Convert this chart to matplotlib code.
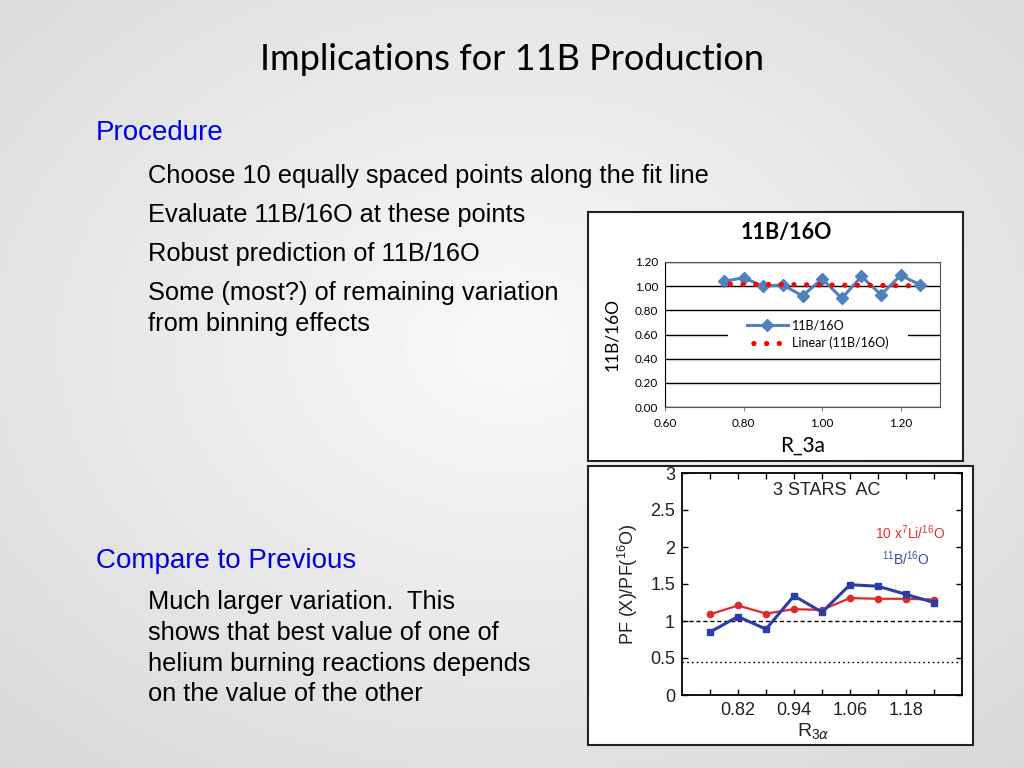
import matplotlib.pyplot as plt
import matplotlib as mpl
import numpy as np
from matplotlib.patches import Rectangle

mpl.use("Agg")
mpl.rcParams["mathtext.fontset"] = "custom"
mpl.rcParams["mathtext.rm"] = "Liberation Sans"

W, H = 1024, 768

# top chart (Excel): 11B/16O vs R_3a
r3a = [0.75, 0.80, 0.85, 0.90, 0.95, 1.00, 1.05, 1.10, 1.15, 1.20, 1.25]
b11_o16 = [1.04, 1.07, 1.00, 1.01, 0.92, 1.06, 0.90, 1.08, 0.93, 1.09, 1.01]
top_yticks = [0.00, 0.20, 0.40, 0.60, 0.80, 1.00, 1.20]
top_xticks = [0.60, 0.80, 1.00, 1.20]

# bottom chart (older paper figure)
r3alpha = [0.76, 0.82, 0.88, 0.94, 1.00, 1.06, 1.12, 1.18, 1.24]
boron_prev = [0.85, 1.06, 0.89, 1.34, 1.12, 1.49, 1.47, 1.36, 1.25]
lithium_prev = [1.09, 1.21, 1.10, 1.16, 1.15, 1.31, 1.30, 1.30, 1.29]
bot_xticks = [0.76, 0.82, 0.88, 0.94, 1.00, 1.06, 1.12, 1.18, 1.24]
bot_xlabels = ["", "0.82", "", "0.94", "", "1.06", "", "1.18", ""]
bot_yticks = [0, 0.5, 1, 1.5, 2, 2.5, 3]
bot_ylabels = ["0", "0.5", "1", "1.5", "2", "2.5", "3"]


def fx(px):
    return px / W


def fy(py):
    return 1 - py / H


def box(x0, y0, x1, y1):
    return [fx(x0), fy(y1), fx(x1) - fx(x0), fy(y0) - fy(y1)]


fig = plt.figure(figsize=(W / 100, H / 100), dpi=100)

# slide background, light radial gradient
bg = fig.add_axes([0, 0, 1, 1], zorder=-10)
yy, xx = np.mgrid[0:1:200j, 0:1:200j]
rr = np.sqrt(((xx - 0.5) / 0.75) ** 2 + ((yy - 0.55) / 0.75) ** 2)
shade = np.clip(0.975 - 0.13 * rr, 0, 1)
bg.imshow(shade, cmap="gray", vmin=0, vmax=1, extent=[0, 1, 0, 1],
          aspect="auto", origin="lower")
bg.axis("off")

sans = ["Liberation Sans", "DejaVu Sans"]
fig.text(0.5, fy(60), "Implications for 11B Production", fontsize=26,
         family=["Lato", "DejaVu Sans"], ha="center", va="center")

fig.text(fx(96), fy(133), "Procedure", fontsize=20, color="#0000e6",
         family=sans, va="center")
lines1 = [
    (176, "Choose 10 equally spaced points along the fit line"),
    (215, "Evaluate 11B/16O at these points"),
    (254, "Robust prediction of 11B/16O"),
    (293, "Some (most?) of remaining variation"),
    (324, "from binning effects"),
]
for y, s in lines1:
    fig.text(fx(148), fy(y), s, fontsize=18.3, family=sans, va="center")

fig.text(fx(96), fy(561), "Compare to Previous", fontsize=20, color="#0000e6",
         family=sans, va="center")
lines2 = [
    (602, "Much larger variation.  This"),
    (633, "shows that best value of one of"),
    (664, "helium burning reactions depends"),
    (694, "on the value of the other"),
]
for y, s in lines2:
    fig.text(fx(148), fy(y), s, fontsize=18.3, family=sans, va="center")

# ---- top chart ----
b = box(588, 212, 963, 461)
fig.patches.append(Rectangle((b[0], b[1]), b[2], b[3], transform=fig.transFigure,
                             facecolor="white", edgecolor="#222222", lw=1.5,
                             zorder=-5))
cal = ["Lato", "DejaVu Sans"]
fig.text(fx(786), fy(232), "11B/16O", fontsize=15.5, fontweight="bold",
         family=cal, ha="center", va="center")

ax = fig.add_axes(box(665, 262, 940, 407))
ax.set_facecolor("none")
ax.set_xlim(0.60, 1.30)
ax.set_ylim(0, 1.20)
ax.set_yticks(top_yticks)
ax.set_xticks(top_xticks)
ax.set_yticklabels(["%.2f" % v for v in top_yticks], family=cal, fontsize=8.5)
ax.set_xticklabels(["%.2f" % v for v in top_xticks], family=cal, fontsize=8.5)
ax.grid(axis="y", color="black", lw=1)
ax.set_axisbelow(True)
for s in ax.spines.values():
    s.set_color("#555555")
    s.set_linewidth(0.8)
ax.spines["left"].set_color("black")
ax.tick_params(axis="y", length=0, pad=5)
ax.tick_params(axis="x", length=3, direction="out", pad=5, color="#888888")

ax.plot(r3a, b11_o16, color="#4f81bd", lw=2.2, marker="D", ms=6.5,
        label="11B/16O", zorder=3)
k, c = np.polyfit(r3a, b11_o16, 1)
fit = np.polyval([k, c], r3a)
ax.plot(r3a, fit, color="#ff0000", lw=3.8, linestyle=(1.2, (0.01, 2.4)),
        dash_capstyle="round", label="Linear (11B/16O)", zorder=4)
ax.set_ylabel("11B/16O", family=cal, fontsize=12.5)
ax.yaxis.set_label_coords(-0.164, 0.5)
ax.set_xlabel("R_3a", family=cal, fontsize=15)
ax.xaxis.set_label_coords(0.5, -0.2)

# white block behind the legend, covering the gridlines
ax.add_patch(Rectangle((0.23, 0.345), 0.655, 0.31, transform=ax.transAxes,
                       facecolor="white", edgecolor="none", zorder=2))
leg = ax.legend(loc="center", bbox_to_anchor=(0.555, 0.5), frameon=False,
                prop={"family": cal, "size": 9}, handlelength=3.3,
                labelspacing=0.4, handletextpad=0.3)
leg.set_zorder(5)

# ---- bottom chart ----
b = box(588, 466, 973, 745)
fig.patches.append(Rectangle((b[0], b[1]), b[2], b[3], transform=fig.transFigure,
                             facecolor="white", edgecolor="#222222", lw=1.5,
                             zorder=-5))

ax2 = fig.add_axes(box(682, 473, 962, 695))
ax2.set_facecolor("none")
ax2.set_xlim(0.70, 1.30)
ax2.set_ylim(0, 3)
ax2.set_xticks(bot_xticks)
ax2.set_xticklabels(bot_xlabels, family=sans, fontsize=13, color="#222222")
ax2.set_yticks(bot_yticks)
ax2.set_yticklabels(bot_ylabels, family=sans, fontsize=13, color="#222222")
ax2.tick_params(direction="in", length=4, width=1, top=True, right=True, pad=5)
for s in ax2.spines.values():
    s.set_linewidth(1.3)
ax2.axhline(1.0, color="black", lw=1, linestyle=(0, (3, 2)))
ax2.axhline(0.44, color="black", lw=1, linestyle=(0, (1.2, 2.2)))
ax2.plot(r3alpha, lithium_prev, color="#dd2a2a", lw=1.6, marker="o", ms=4.5)
ax2.plot(r3alpha, boron_prev, color="#2b3ea6", lw=2.2, marker="s", ms=5)
ax2.text(0.515, 0.92, "3 STARS  AC", transform=ax2.transAxes, ha="center",
         va="center", family=sans, fontsize=13, color="#222222")
ax2.text(0.815, 0.73, r"10 x$^7$Li/$^{16}$O", transform=ax2.transAxes,
         ha="center", va="center", family=sans, fontsize=10, color="#dd3333")
ax2.text(0.80, 0.615, r"$^{11}$B/$^{16}$O", transform=ax2.transAxes,
         ha="center", va="center", family=sans, fontsize=10, color="#3a4aa8")
ax2.set_ylabel(r"PF (X)/PF($^{16}$O)", family=sans, fontsize=13,
               color="#222222")
ax2.yaxis.set_label_coords(-0.15, 0.5)
ax2.set_xlabel(r"R$_{3\alpha}$", family=sans, fontsize=14, color="#222222")
ax2.xaxis.set_label_coords(0.47, -0.12)

plt.savefig("out.png", dpi=100)
